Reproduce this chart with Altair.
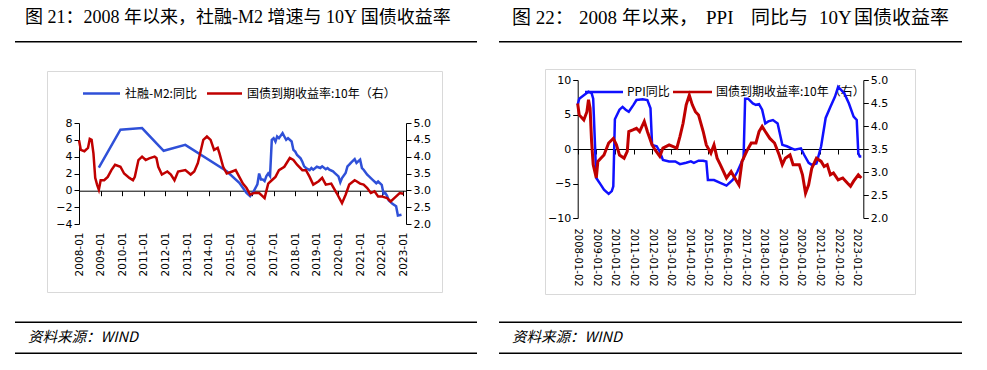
import altair as alt
import pandas as pd

# ---------------- data ----------------
TITLE_L = "图 21：2008 年以来，社融-M2 增速与 10Y 国债收益率"
# the right-hand title is letter-spaced in the reference; it is set in pieces
TITLE_R_PARTS = ["图 22：", "2008", "年以来，", "PPI", "同比与", "10Y", "国债收益率"]
SOURCE = "资料来源：WIND"
SERIES_L = ["社融-M2:同比", "国债到期收益率:10年（右）"]
SERIES_R = ["PPI同比", "国债到期收益率:10年（右）"]

YEARS = list(range(2008, 2024))
L_Y_TICKS = [-4, -2, 0, 2, 4, 6, 8]
R_Y_TICKS = [-10, -5, 0, 5, 10]
YIELD_TICKS = [2.0, 2.5, 3.0, 3.5, 4.0, 4.5, 5.0]

# left panel: 社融-M2 同比
L_BLUE_DATES = ["2008-12", "2009-12", "2010-12", "2011-12", "2012-12", "2014-11", "2015-06", "2015-10",
                "2015-12", "2016-02", "2016-04", "2016-05", "2016-06", "2016-07", "2016-08", "2016-09",
                "2016-10", "2016-11", "2016-12", "2017-01", "2017-02", "2017-03", "2017-04", "2017-06",
                "2017-07", "2017-08", "2017-09", "2017-11", "2017-12", "2018-01", "2018-02", "2018-04",
                "2018-05", "2018-06", "2018-07", "2018-09", "2018-10", "2018-11", "2019-01", "2019-03",
                "2019-04", "2019-06", "2019-07", "2019-08", "2019-10", "2019-11", "2020-01", "2020-02",
                "2020-03", "2020-05", "2020-06", "2020-07", "2020-08", "2020-10", "2020-11", "2021-01",
                "2021-02", "2021-03", "2021-05", "2021-06", "2021-07", "2021-08", "2021-10", "2021-11",
                "2022-01", "2022-02", "2022-03", "2022-04", "2022-05", "2022-06", "2022-07", "2022-09",
                "2022-10", "2022-12"]
L_BLUE_VALUES = [2.7, 7.2, 7.4, 4.7, 5.4, 2.26, 0.9, -0.3,
                 -0.7, -0.1, 0.7, 2.0, 1.3, 1.3, 1.1, 1.7,
                 2.0, 1.7, 6.0, 6.2, 5.8, 6.4, 6.2, 6.8,
                 6.4, 6.0, 6.2, 5.8, 4.8, 4.6, 4.2, 3.8,
                 3.4, 2.85, 2.65, 2.4, 2.65, 2.45, 2.8, 2.65,
                 2.85, 2.5, 2.65, 2.45, 2.25, 2.05, 1.65, 0.95,
                 1.45, 2.05, 2.85, 3.05, 3.3, 3.7, 3.25, 3.65,
                 2.65, 2.45, 1.85, 1.65, 1.45, 1.25, 0.85, 1.05,
                 0.65, -0.4, -0.3, -0.65, -1.2, -1.4, -1.6, -1.9,
                 -3.0, -2.9]

# left panel: 10Y yield
L_RED_DATES = ["2008-01", "2008-02", "2008-04", "2008-06", "2008-07", "2008-08", "2008-09", "2008-10",
               "2008-11", "2008-12", "2009-01", "2009-03", "2009-05", "2009-07", "2009-09", "2009-12",
               "2010-02", "2010-05", "2010-07", "2010-08", "2010-10", "2010-12", "2011-02", "2011-04",
               "2011-07", "2011-08", "2011-09", "2011-11", "2012-02", "2012-04", "2012-06", "2012-08",
               "2012-12", "2013-03", "2013-05", "2013-07", "2013-10", "2013-12", "2014-02", "2014-04",
               "2014-06", "2014-07", "2014-09", "2014-11", "2015-02", "2015-04", "2015-06", "2015-08",
               "2015-10", "2015-12", "2016-02", "2016-05", "2016-07", "2016-08", "2016-10", "2016-12",
               "2017-02", "2017-04", "2017-07", "2017-10", "2017-12", "2018-02", "2018-05", "2018-07",
               "2018-09", "2018-11", "2019-02", "2019-04", "2019-06", "2019-09", "2019-12", "2020-03",
               "2020-05", "2020-07", "2020-10", "2020-11", "2021-01", "2021-03", "2021-05", "2021-07",
               "2021-09", "2021-11", "2022-01", "2022-04", "2022-06", "2022-08", "2022-11", "2023-01"]
L_RED_VALUES = [4.49, 4.2, 4.16, 4.26, 4.53, 4.5, 4.1, 3.37,
                3.17, 3.02, 3.3, 3.3, 3.4, 3.6, 3.76, 3.7,
                3.5, 3.37, 3.3, 3.4, 3.9, 4.0, 3.9, 3.95,
                4.0, 3.96, 3.7, 3.47, 3.56, 3.47, 3.3, 3.56,
                3.6, 3.47, 3.56, 3.81, 4.5, 4.6, 4.5, 4.2,
                4.26, 4.1, 3.7, 3.5, 3.56, 3.6, 3.4, 3.2,
                3.07, 2.87, 2.92, 2.92, 2.82, 2.77, 3.2, 3.3,
                3.4, 3.6, 3.7, 3.96, 3.9, 3.76, 3.6, 3.6,
                3.4, 3.17, 3.27, 3.37, 3.17, 3.2, 2.92, 2.62,
                2.87, 3.17, 3.3, 3.27, 3.2, 3.17, 3.07, 2.92,
                2.97, 2.82, 2.82, 2.77, 2.67, 2.77, 2.92, 2.9]

# right panel: PPI 同比
R_BLUE_DATES = ["2008-01", "2008-02", "2008-05", "2008-08", "2008-10", "2008-11", "2009-01", "2009-04",
                "2009-06", "2009-09", "2009-11", "2009-12", "2010-01", "2010-04", "2010-06", "2010-08",
                "2010-10", "2011-01", "2011-03", "2011-07", "2011-10", "2011-12", "2012-01", "2012-04",
                "2012-06", "2012-08", "2012-12", "2013-04", "2013-07", "2013-11", "2014-02", "2014-04",
                "2014-07", "2014-10", "2014-12", "2015-01", "2015-05", "2015-09", "2016-01", "2016-05",
                "2016-08", "2016-11", "2016-12", "2017-01", "2017-03", "2017-06", "2017-08", "2017-10",
                "2017-12", "2018-02", "2018-04", "2018-07", "2018-10", "2019-01", "2019-04", "2019-07",
                "2019-09", "2020-01", "2020-03", "2020-06", "2020-08", "2020-11", "2021-02", "2021-05",
                "2021-08", "2021-11", "2022-01", "2022-05", "2022-08", "2022-11", "2023-01", "2023-02",
                "2023-03", "2023-04"]
R_BLUE_VALUES = [6.4, 7.3, 7.8, 8.3, 8.1, 7.3, -4.2, -5.2,
                 -5.9, -6.5, -6.1, -5.4, 4.3, 5.7, 6.1, 5.7,
                 5.4, 6.4, 7.1, 7.2, 7.1, 5.9, 0.6, 0.4,
                 -0.4, -1.6, -1.8, -1.8, -2.2, -2.0, -1.8, -2.0,
                 -1.7, -1.7, -1.8, -4.5, -4.5, -4.9, -5.3, -4.5,
                 -3.3, -1.8, -1.4, 7.3, 7.3, 6.6, 6.4, 6.5,
                 5.7, 3.7, 4.0, 4.2, 3.7, 0.6, 0.4, 0.1,
                 -0.1, 0.1, -0.8, -2.0, -2.3, -2.1, 0.4, 4.5,
                 6.1, 7.6, 9.0, 8.1, 6.6, 4.7, 4.2, -0.6,
                 -1.1, -1.1]

# right panel: 10Y yield
R_RED_DATES = ["2008-01", "2008-02", "2008-05", "2008-07", "2008-08", "2008-09", "2008-10", "2008-11",
               "2009-01", "2009-02", "2009-04", "2009-06", "2009-09", "2009-12", "2010-02", "2010-04",
               "2010-07", "2010-09", "2010-10", "2011-01", "2011-03", "2011-05", "2011-08", "2011-10",
               "2012-01", "2012-03", "2012-06", "2012-08", "2012-12", "2013-05", "2013-07", "2013-09",
               "2013-11", "2014-01", "2014-03", "2014-05", "2014-07", "2014-10", "2014-12", "2015-03",
               "2015-05", "2015-07", "2015-09", "2016-01", "2016-04", "2016-07", "2016-09", "2016-11",
               "2017-02", "2017-05", "2017-08", "2017-10", "2017-12", "2018-02", "2018-05", "2018-08",
               "2018-11", "2019-01", "2019-03", "2019-06", "2019-08", "2019-12", "2020-02", "2020-04",
               "2020-06", "2020-08", "2020-11", "2021-02", "2021-04", "2021-06", "2021-08", "2021-10",
               "2022-01", "2022-04", "2022-07", "2022-09", "2022-11", "2023-02", "2023-04"]
R_RED_VALUES = [4.49, 4.24, 4.13, 4.31, 4.57, 4.39, 3.66, 3.16,
                2.87, 3.23, 3.3, 3.37, 3.63, 3.73, 3.59, 3.37,
                3.3, 3.45, 3.88, 3.92, 3.95, 3.88, 4.1, 3.88,
                3.59, 3.48, 3.34, 3.52, 3.59, 3.52, 3.77, 4.06,
                4.46, 4.67, 4.46, 4.31, 4.24, 3.88, 3.59, 3.41,
                3.59, 3.3, 3.16, 2.87, 3.01, 2.83, 2.72, 3.23,
                3.45, 3.63, 3.63, 3.88, 3.99, 3.88, 3.73, 3.63,
                3.37, 3.16, 3.3, 3.37, 3.16, 3.16, 2.94, 2.54,
                2.72, 3.08, 3.3, 3.23, 3.12, 3.16, 2.94, 2.98,
                2.83, 2.87, 2.76, 2.69, 2.8, 2.94, 2.87]

# ---------------- styling ----------------
BLUE_L = "#2f50d8"
BLUE_R = "#1010ff"
RED = "#c00000"
FRAME = "#d9d9d9"
NUM_FONT = "DejaVu Sans"
CJK_FONT = "Noto Sans CJK SC"
TITLE_FONT = "Liberation Serif, Noto Sans CJK SC"
W, H = 485, 354
ONE = pd.DataFrame({"k": [0]})


def frame_df(dates, values, name):
    assert len(dates) == len(values)
    return pd.DataFrame({"date": pd.to_datetime([d + "-01" for d in dates]),
                         "v": values, "s": name})


def text(base, s, x, y, font, size, style="normal"):
    return base.mark_text(text=s, align="left", baseline="middle", font=font, fontSize=size,
                          fontStyle=style, color="black").encode(x=alt.value(x), y=alt.value(y))


def hrule(base, x1, x2, y, color="black", width=1.6):
    return base.mark_rule(color=color, strokeWidth=width).encode(
        x=alt.value(x1), x2=alt.value(x2), y=alt.value(y))


def decorations(p):
    base = alt.Chart(ONE)
    x1, x2 = p["rules"]
    box = p["box"]
    layers = [base.mark_rect(filled=False, stroke=FRAME, strokeWidth=1).encode(
        x=alt.value(box[0]), x2=alt.value(box[1]), y=alt.value(box[2]), y2=alt.value(box[3]))]
    for s, tx in zip(p["title"], p["title_x"]):
        layers.append(text(base, s, tx, 10, TITLE_FONT, p["title_size"]))
    layers += [hrule(base, x1, x2, 33.7), hrule(base, x1, x2, 314.3), hrule(base, x1, x2, 345.3),
               text(base, SOURCE, p["src_x"], 330, CJK_FONT, 14.5, "italic")]
    # legend: line sample + label for each series
    lg = p["legend"]
    for name, col, (sx1, sx2, lx) in zip(p["series"], [p["blue"], RED], lg["items"]):
        layers.append(hrule(base, sx1, sx2, lg["y"], col, 2.5))
        layers.append(text(base, name, lx, lg["y"], CJK_FONT, 12))
    return layers


def y_axis(orient, offset, values, fmt, size):
    return alt.Axis(orient=orient, offset=offset, values=values, format=fmt, title=None, grid=False,
                    domainColor="black", tickColor="black", tickSize=5, labelPadding=2,
                    labelFont=NUM_FONT, labelFontSize=size, labelColor="black")


def build_panel(p):
    xs = alt.Scale(domain=[alt.DateTime(year=p["x0"][0], month=p["x0"][1], date=p["x0"][2]),
                           alt.DateTime(year=p["x1"][0], month=p["x1"][1], date=p["x1"][2])],
                   range=p["xrange"])
    tick_dates = [alt.DateTime(year=y, month=1, date=p["tick_day"]) for y in YEARS]
    label_axis = alt.Axis(orient="bottom", offset=p["label_y"] - H, values=tick_dates, format=p["fmt"],
                          labelAngle=p["angle"], labelAlign=p["align"], labelBaseline="middle",
                          labelPadding=0, ticks=False, tickSize=0, domain=False, grid=False, title=None,
                          labelFont=NUM_FONT, labelFontSize=p["xfs"], labelColor="black",
                          labelFlush=False, labelOverlap=False, labelBound=False)
    zero_axis = alt.Axis(orient="bottom", offset=p["zero_y"] - H, values=tick_dates, labels=False,
                         ticks=True, tickSize=5, domain=True, domainColor="black", tickColor="black",
                         grid=False, title=None)
    color = alt.Color("s:N", scale=alt.Scale(domain=p["series"], range=[p["blue"], RED]), legend=None)
    blue = alt.Chart(p["dfb"]).mark_line(strokeWidth=2.5).encode(
        x=alt.X("date:T", scale=xs, axis=label_axis),
        y=alt.Y("v:Q", scale=alt.Scale(domain=p["ydom"], range=p["yrange"], nice=False, zero=False),
                axis=y_axis("left", -p["xrange"][0], p["yticks"], "d", 11)),
        color=color)
    red = alt.Chart(p["dfr"]).mark_line(strokeWidth=p["redw"]).encode(
        x=alt.X("date:T", scale=xs, axis=zero_axis),
        y=alt.Y("v:Q", scale=alt.Scale(domain=[2, 5], range=p["yrange"], nice=False, zero=False),
                axis=y_axis("right", p["xrange"][1] - W, YIELD_TICKS, ".1f", 11)),
        color=color)
    layers = decorations(p) + [blue, red]
    return (alt.layer(*layers)
            .resolve_scale(y="independent")
            .resolve_axis(x="independent", y="independent")
            .properties(width=W, height=H))


left = build_panel(dict(
    x0=(2008, 1, 1), x1=(2023, 2, 15), xrange=[71, 398], tick_day=1, fmt="%Y-%m", angle=270,
    align="right", xfs=10.5, label_y=224, zero_y=182.7, ydom=[-4, 8], yrange=[216, 115],
    yticks=L_Y_TICKS, series=SERIES_L, blue=BLUE_L, redw=2.5,
    legend=dict(y=85.5, items=[(75, 112, 117), (199, 234, 239)]),
    dfb=frame_df(L_BLUE_DATES, L_BLUE_VALUES, SERIES_L[0]),
    dfr=frame_df(L_RED_DATES, L_RED_VALUES, SERIES_L[1]),
    title=[TITLE_L], title_x=[17], title_size=18,
    rules=(7, 469), box=(39.5, 434.5, 63.5, 284.5), src_x=20))

right = build_panel(dict(
    x0=(2008, 1, 2), x1=(2023, 5, 10), xrange=[84.7, 370.3], tick_day=2, fmt="%Y-%m-%d", angle=90,
    align="left", xfs=10, label_y=220, zero_y=141, ydom=[-10, 10], yrange=[210, 72],
    yticks=R_Y_TICKS, series=SERIES_R, blue=BLUE_R, redw=3,
    legend=dict(y=84, items=[(92, 130, 134), (180, 219, 223)]),
    dfb=frame_df(R_BLUE_DATES, R_BLUE_VALUES, SERIES_R[0]),
    dfr=frame_df(R_RED_DATES, R_RED_VALUES, SERIES_R[1]),
    title=TITLE_R_PARTS, title_x=[19, 86, 129, 213, 258, 326, 361], title_size=19,
    rules=(6, 469), box=(52.5, 422.5, 61.5, 286.5), src_x=19))

chart = (alt.hconcat(left, right, spacing=0, bounds="flush")
         .resolve_scale(x="independent", y="independent", color="independent")
         .properties(padding=0, background="white")
         .configure_view(stroke=None))

chart.save("out.html", embed_options={"renderer": "svg", "actions": False})
